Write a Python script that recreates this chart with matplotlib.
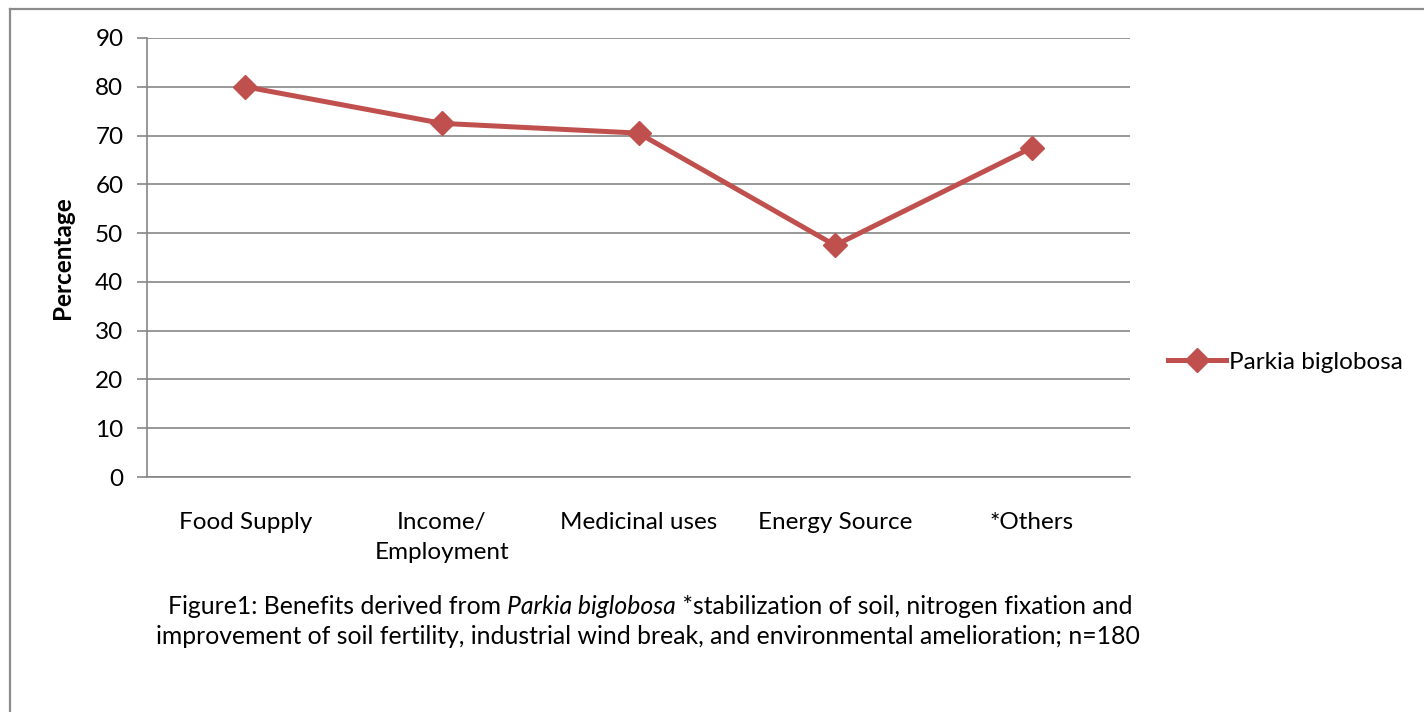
import matplotlib
matplotlib.use("Agg")
import matplotlib.pyplot as plt
from matplotlib.lines import Line2D

plt.rcParams['font.family'] = ['Lato', 'DejaVu Sans']

# данные с графика
categories = ["Food Supply", "Income/\nEmployment", "Medicinal uses", "Energy Source", "*Others"]
values = [80, 72.5, 70.5, 47.5, 67.5]
series_name = "Parkia biglobosa"
yticks = list(range(0, 100, 10))

red = "#C0504D"
grey = "#868686"
fs = 17.5

fig = plt.figure(figsize=(14.24, 7.12), dpi=100)
ax = fig.add_axes([147 / 1424, 1 - 477 / 712, 983 / 1424, 439 / 712])

x = range(len(categories))
ax.plot(x, values, color=red, lw=3.6, marker="D", ms=12, label=series_name)

ax.set_xlim(-0.5, len(categories) - 0.5)
ax.set_ylim(0, 90)
ax.set_yticks(yticks)
ax.set_xticks(list(x))
ax.set_xticklabels(categories, fontsize=fs, va="top", linespacing=1.55)
ax.tick_params(axis="x", length=0, pad=25)
ax.tick_params(axis="y", length=7, width=1.2, color=grey, pad=10, labelsize=fs)
ax.grid(axis="y", color=grey, lw=1.2)
ax.set_axisbelow(True)
for s in ["top", "right"]:
    ax.spines[s].set_visible(False)
for s in ["left", "bottom"]:
    ax.spines[s].set_color(grey)
    ax.spines[s].set_linewidth(1.2)

ax.set_ylabel("Percentage", fontsize=fs, fontweight="bold", labelpad=15)

fig.legend(loc="center left", bbox_to_anchor=(1146 / 1424, 1 - 362 / 712),
           frameon=False, fontsize=fs, handlelength=2.4, handletextpad=0.1)

# подпись рисунка: часть курсивом
fig.canvas.draw()
r = fig.canvas.get_renderer()
y1 = 1 - 606 / 712
cfs = 17.8
parts = [("Figure1: Benefits derived from ", "normal"), ("Parkia biglobosa", "italic"),
         (" *stabilization of soil, nitrogen fixation and", "normal")]
texts = [fig.text(0, y1, p, fontsize=cfs, style=st, va="center") for p, st in parts]
widths = [t.get_window_extent(r).width for t in texts]
xpos = 650 - sum(widths) / 2
for t, w in zip(texts, widths):
    t.set_x(xpos / 1424)
    xpos += w
fig.text(648 / 1424, 1 - 637 / 712,
         "improvement of soil fertility, industrial wind break, and environmental amelioration; n=180",
         fontsize=cfs, ha="center", va="center")

# рамка
fig.add_artist(Line2D([10 / 1424, 1], [1 - 9 / 712] * 2, color="#8c8c8c", lw=1.6))
fig.add_artist(Line2D([10 / 1424] * 2, [0, 1 - 9 / 712], color="#8c8c8c", lw=1.6))

fig.savefig("out.png", dpi=100)
